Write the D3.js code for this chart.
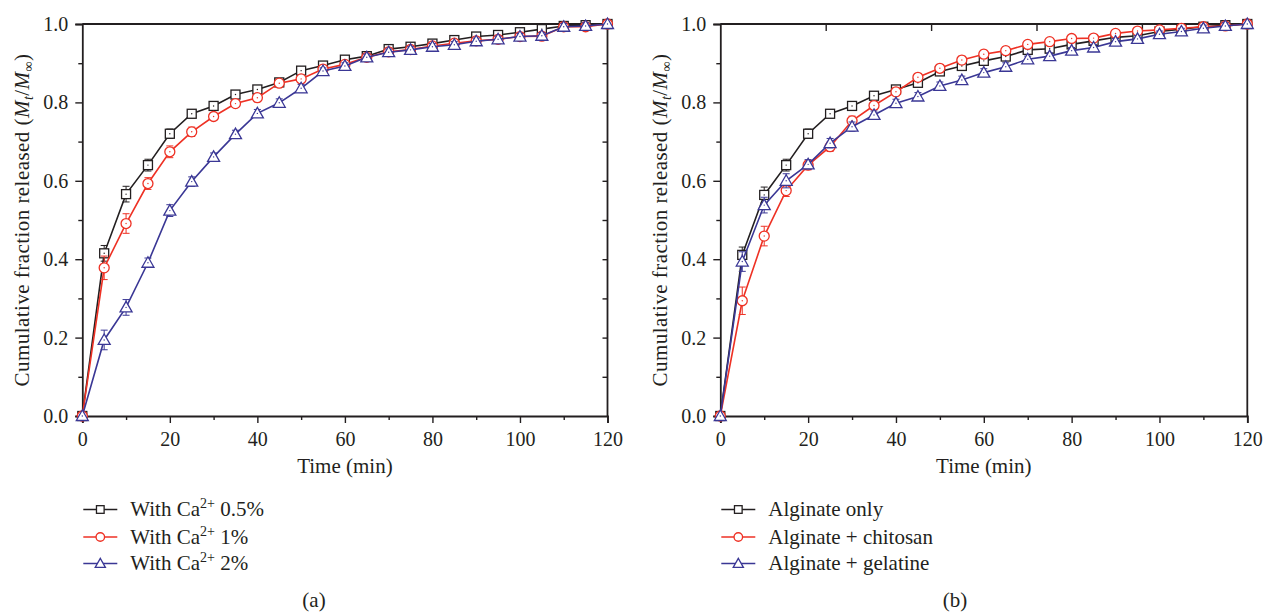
<!DOCTYPE html>
<html><head><meta charset="utf-8">
<script src="https://cdn.jsdelivr.net/npm/d3@7"></script>
<style>body{margin:0;background:#fff}svg{display:block}text{font-family:"Liberation Serif","Times New Roman",serif;fill:#231f20}</style>
</head><body>
<script>
// ---- data ----
const times = [0,5,10,15,20,25,30,35,40,45,50,55,60,65,70,75,80,85,90,95,100,105,110,115,120];
const xTicks = [0,20,40,60,80,100,120];
const yTicks = [0,0.2,0.4,0.6,0.8,1.0];
// Panel (a)
const labelsA = ["With Ca", "With Ca", "With Ca"];
const supA = ["2+","2+","2+"];
const tailA = [" 0.5%"," 1%"," 2%"];
const ca05 = [0,0.415,0.566,0.640,0.720,0.771,0.791,0.820,0.833,0.851,0.881,0.894,0.909,0.918,0.936,0.942,0.950,0.959,0.968,0.972,0.979,0.987,0.995,0.997,1.0];
const ca1  = [0,0.378,0.491,0.593,0.674,0.725,0.764,0.797,0.812,0.849,0.860,0.885,0.897,0.915,0.929,0.935,0.944,0.951,0.957,0.961,0.968,0.969,0.993,0.993,1.0];
const ca2  = [0,0.194,0.277,0.391,0.524,0.598,0.661,0.719,0.772,0.799,0.836,0.880,0.893,0.915,0.928,0.934,0.942,0.947,0.956,0.961,0.968,0.970,0.993,0.995,1.0];
const ca05Err = [0,0.02,0.02,0.015,0.012,0.01,0.01,0.01,0.01,0.008,0.008,0.008,0.008,0.008,0.008,0.008,0.008,0.008,0.008,0.008,0.008,0.008,0.008,0.008,0];
const ca1Err  = [0,0.03,0.025,0.015,0.015,0.012,0.01,0.01,0.01,0.008,0.008,0.008,0.008,0.008,0.008,0.008,0.008,0.008,0.008,0.008,0.008,0.008,0.008,0.008,0];
const ca2Err  = [0,0.025,0.02,0.012,0.015,0.012,0.01,0.01,0.01,0.01,0.01,0.008,0.008,0.008,0.008,0.008,0.008,0.008,0.008,0.008,0.008,0.008,0.008,0.008,0];
// Panel (b)
const labelsB = ["Alginate only","Alginate + chitosan","Alginate + gelatine"];
const algOnly  = [0,0.411,0.564,0.640,0.720,0.771,0.791,0.817,0.833,0.850,0.879,0.893,0.906,0.917,0.934,0.937,0.948,0.957,0.966,0.970,0.981,0.987,0.993,0.997,1.0];
const algChit  = [0,0.294,0.459,0.575,0.640,0.687,0.753,0.792,0.827,0.864,0.887,0.908,0.923,0.932,0.948,0.955,0.963,0.964,0.976,0.982,0.985,0.989,0.993,0.995,1.0];
const algGel   = [0,0.394,0.538,0.600,0.642,0.696,0.738,0.768,0.798,0.815,0.842,0.857,0.876,0.891,0.910,0.918,0.932,0.940,0.955,0.962,0.974,0.981,0.989,0.995,1.0];
const algOnlyErr = [0,0.02,0.02,0.015,0.012,0.01,0.01,0.01,0.01,0.008,0.008,0.008,0.008,0.008,0.008,0.008,0.008,0.008,0.008,0.008,0.008,0.008,0.008,0.008,0];
const algChitErr = [0,0.035,0.025,0.015,0.012,0.012,0.012,0.01,0.01,0.01,0.01,0.01,0.01,0.01,0.008,0.008,0.008,0.008,0.008,0.008,0.008,0.008,0.008,0.008,0];
const algGelErr  = [0,0.025,0.02,0.018,0.012,0.012,0.012,0.01,0.01,0.01,0.01,0.01,0.01,0.01,0.008,0.008,0.008,0.008,0.008,0.008,0.008,0.008,0.008,0.008,0];

const colors = ["#231f20","#ee3124","#3a3795"];
const shapes = ["square","circle","triangle"];
const ink = "#231f20";

const svg = d3.select("body").append("svg").attr("width",1263).attr("height",614);
svg.append("rect").attr("width",1263).attr("height",614).attr("fill","#fff");

function marker(g, shape, color, cx, cy, sc, dot){
  sc = sc || 1;
  let m;
  if(shape==="square") m = g.append("rect").attr("x",cx-4.5*sc).attr("y",cy-4.5*sc).attr("width",9*sc).attr("height",9*sc);
  else if(shape==="circle") m = g.append("circle").attr("cx",cx).attr("cy",cy).attr("r",5*sc);
  else m = g.append("path").attr("d",`M${cx},${cy-6*sc}L${cx+6*sc},${cy+4.5*sc}L${cx-6*sc},${cy+4.5*sc}Z`);
  m.attr("fill","#fff").attr("stroke",color).attr("stroke-width",1.3);
  if(dot!==false) g.append("circle").attr("cx",cx).attr("cy",cy).attr("r",0.7).attr("fill",color);
}

function drawPanel(opts){
  const x = d3.scaleLinear().domain([0,120]).range(opts.xr);
  const y = d3.scaleLinear().domain([0,1]).range([416,24]);
  const g = svg.append("g");
  // frame
  g.append("line").attr("x1",x(0)).attr("x2",x(120)).attr("y1",y(1)).attr("y2",y(1)).attr("stroke",ink).attr("stroke-width",1.8);
  g.append("line").attr("x1",x(120)).attr("x2",x(120)).attr("y1",y(0)).attr("y2",y(1)).attr("stroke",ink).attr("stroke-width",1.8);
  // bottom axis
  g.append("g").attr("transform",`translate(0,${y(0)})`)
    .call(d3.axisBottom(x).tickValues(xTicks).tickSize(7).tickPadding(9).tickFormat(d3.format("d")));
  g.append("g").attr("transform",`translate(0,${y(0)})`)
    .call(d3.axisBottom(x).tickValues(d3.range(10,120,20)).tickSize(4).tickFormat(""))
    .call(s=>s.select(".domain").remove());
  // left axis
  g.append("g").attr("transform",`translate(${x(0)},0)`)
    .call(d3.axisLeft(y).tickValues(yTicks).tickSize(7).tickPadding(7).tickFormat(d3.format(".1f")));
  g.append("g").attr("transform",`translate(${x(0)},0)`)
    .call(d3.axisLeft(y).tickValues([0.1,0.3,0.5,0.7,0.9]).tickSize(4).tickFormat(""))
    .call(s=>s.select(".domain").remove());
  if(opts.rightTicks){
    g.append("g").attr("transform",`translate(${x(120)},0)`)
      .call(d3.axisRight(y).tickValues(d3.range(1,10).map(d=>d/10)).tickSize(-5).tickFormat(""))
      .call(s=>s.select(".domain").remove());
  }
  if(opts.topTicks){
    g.append("g").attr("transform",`translate(0,${y(1)})`)
      .call(d3.axisTop(x).tickValues([24,48,72,96]).tickSize(-7).tickFormat(""))
      .call(s=>s.select(".domain").remove());
  }
  g.selectAll(".domain").attr("stroke",ink).attr("stroke-width",1.8);
  g.selectAll(".tick line").attr("stroke",ink).attr("stroke-width",1.4);
  g.selectAll(".tick text").attr("font-size",20).attr("font-family",'"Liberation Serif",serif').attr("fill",ink);
  // axis titles
  g.append("text").attr("x",(opts.xr[0]+opts.xr[1])/2).attr("y",473).attr("text-anchor","middle")
    .attr("font-size",21).text("Time (min)");
  const yt = g.append("text").attr("transform",`translate(${opts.xr[0]-53},${y(0.5)}) rotate(-90)`)
    .attr("text-anchor","middle").attr("font-size",21).attr("letter-spacing",0.45);
  yt.append("tspan").text("Cumulative fraction released (");
  yt.append("tspan").attr("font-style","italic").text("M");
  yt.append("tspan").attr("font-style","italic").attr("font-size",14).attr("dy",4).text("t");
  yt.append("tspan").attr("dy",-4).text("/");
  yt.append("tspan").attr("font-style","italic").text("M");
  yt.append("tspan").attr("font-size",14).attr("dy",4).text("\u221E");
  yt.append("tspan").attr("dy",-4).text(")");
  // series
  const line = d3.line().x((d,i)=>x(times[i])).y(d=>y(d));
  opts.series.forEach((s,k)=>{
    const sg = g.append("g");
    sg.append("path").datum(s.vals).attr("d",line).attr("fill","none").attr("stroke",colors[k]).attr("stroke-width",1.6);
    s.vals.forEach((v,i)=>{
      const e = s.err[i];
      if(e>0){
        const cx = x(times[i]);
        sg.append("line").attr("x1",cx).attr("x2",cx).attr("y1",y(v-e)).attr("y2",y(v+e)).attr("stroke",colors[k]).attr("stroke-width",1);
        [v-e,v+e].forEach(w=>sg.append("line").attr("x1",cx-3.5).attr("x2",cx+3.5).attr("y1",y(w)).attr("y2",y(w)).attr("stroke",colors[k]).attr("stroke-width",1));
      }
    });
    s.vals.forEach((v,i)=>marker(sg.append("g"),shapes[k],colors[k],x(times[i]),y(v)));
  });
  // legend
  const lx = opts.xr[0]+1, ly = [509.5,537,563.5];
  opts.series.forEach((s,k)=>{
    const lg = g.append("g");
    lg.append("line").attr("x1",lx).attr("x2",lx+34).attr("y1",ly[k]).attr("y2",ly[k]).attr("stroke",colors[k]).attr("stroke-width",1.6);
    marker(lg.append("g"),shapes[k],colors[k],lx+17,ly[k],0.85,false);
    const t = g.append("text").attr("x",lx+47).attr("y",ly[k]+6.5).attr("font-size",21);
    s.label(t);
  });
  g.append("text").attr("x",opts.tagX).attr("y",607).attr("text-anchor","middle").attr("font-size",21).text(opts.tag);
}

function caLabel(k){
  return t=>{
    t.append("tspan").text(labelsA[k]);
    t.append("tspan").attr("font-size",14).attr("dy",-8).text(supA[k]);
    t.append("tspan").attr("dy",8).text(tailA[k]);
  };
}

drawPanel({
  xr:[82.3,607.5], rightTicks:true, topTicks:false, tag:"(a)", tagX:314,
  series:[
    {vals:ca05, err:ca05Err, label:caLabel(0)},
    {vals:ca1, err:ca1Err, label:caLabel(1)},
    {vals:ca2, err:ca2Err, label:caLabel(2)}
  ]
});
drawPanel({
  xr:[720.3,1247.3], rightTicks:false, topTicks:true, tag:"(b)", tagX:955,
  series:[
    {vals:algOnly, err:algOnlyErr, label:t=>t.text(labelsB[0])},
    {vals:algChit, err:algChitErr, label:t=>t.text(labelsB[1])},
    {vals:algGel, err:algGelErr, label:t=>t.text(labelsB[2])}
  ]
});
</script>
</body></html>
